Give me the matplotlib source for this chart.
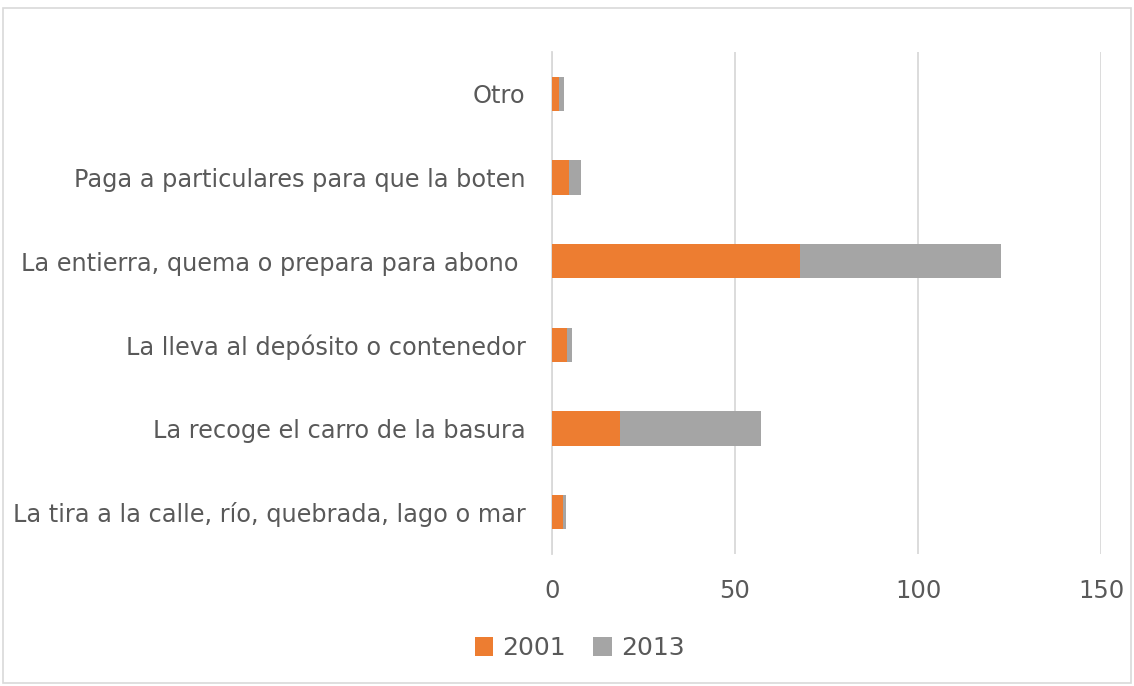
import matplotlib.pyplot as plt
from matplotlib.patches import Rectangle

categories = [
    "La tira a la calle, río, quebrada, lago o mar",
    "La recoge el carro de la basura",
    "La lleva al depósito o contenedor",
    "La entierra, quema o prepara para abono ",
    "Paga a particulares para que la boten",
    "Otro",
]
v2001 = [3.1, 18.6, 4.1, 67.8, 4.5, 2.0]
v2013 = [0.7, 38.5, 1.4, 54.9, 3.4, 1.2]
xticks = [0, 50, 100, 150]

plt.rcParams["font.family"] = ["DejaVu Sans"]
text_color = "#595959"

fig = plt.figure(figsize=(11.34, 6.86), dpi=100)
ax = fig.add_axes([0.4868, 0.1924, 0.4841, 0.7318])

y = range(len(categories))
ax.barh(y, v2001, height=0.41, color="#ED7D31", label="2001", zorder=3)
ax.barh(y, v2013, left=v2001, height=0.41, color="#A5A5A5", label="2013", zorder=3)

ax.set_xlim(0, 150)
ax.set_ylim(-0.5, len(categories) - 0.5)
ax.set_xticks(xticks)
ax.set_yticks(list(y))
ax.set_yticklabels(categories)
ax.grid(axis="x", color="#D9D9D9", linewidth=1.3, zorder=0)
for s in ["top", "right", "bottom"]:
    ax.spines[s].set_visible(False)
ax.spines["left"].set_color("#D9D9D9")
ax.spines["left"].set_linewidth(1.3)
ax.tick_params(axis="y", length=0, pad=19, labelsize=17.3, labelcolor=text_color)
ax.tick_params(axis="x", length=0, pad=18, labelsize=17.5, labelcolor=text_color)

fig.legend(loc="center", bbox_to_anchor=(0.511, 0.055), ncol=2, frameon=False,
           fontsize=18, labelcolor=text_color, handlelength=0.75, handleheight=0.75,
           handletextpad=0.35, columnspacing=1.1)

fig.patches.append(Rectangle((0.003, 0.004), 0.994, 0.985, transform=fig.transFigure,
                             fill=False, edgecolor="#D9D9D9", linewidth=1.2))

fig.savefig("out.png", dpi=100)
